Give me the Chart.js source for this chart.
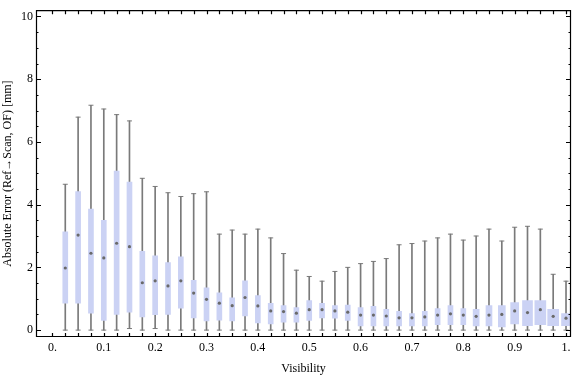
<!DOCTYPE html>
<html>
<head>
<meta charset="utf-8">
<script src="https://cdn.jsdelivr.net/npm/chart.js@4.4.1/dist/chart.umd.min.js"></script>
<style>
  html, body { margin: 0; padding: 0; background: #fff; }
</style>
</head>
<body>
<canvas id="box-chart" width="576" height="377"></canvas>
<script>
// one box per visibility bin
var visibility = [0.025, 0.05, 0.075, 0.1, 0.125, 0.15, 0.175, 0.2, 0.225, 0.25,
                  0.275, 0.3, 0.325, 0.35, 0.375, 0.4, 0.425, 0.45, 0.475, 0.5,
                  0.525, 0.55, 0.575, 0.6, 0.625, 0.65, 0.675, 0.7, 0.725, 0.75,
                  0.775, 0.8, 0.825, 0.85, 0.875, 0.9, 0.925, 0.95, 0.975, 1.0];
var whiskerLow = [0, 0, 0, 0, 0, 0.05, 0, 0.05, 0, 0,
                  0, 0, 0, 0, 0, 0, 0, 0, 0, 0,
                  0, 0, 0, 0, 0, 0, 0, 0, 0, 0,
                  0, 0, 0, 0, 0, 0, 0, 0, 0, 0];
var lowerQuartile = [0.86, 0.86, 0.54, 0.31, 0.50, 0.57, 0.42, 0.49, 0.50, 0.70,
                     0.39, 0.29, 0.32, 0.29, 0.45, 0.23, 0.20, 0.25, 0.25, 0.31,
                     0.39, 0.38, 0.31, 0.13, 0.13, 0.13, 0.13, 0.13, 0.13, 0.17,
                     0.17, 0.17, 0.13, 0.13, 0.10, 0.20, 0.14, 0.17, 0.14, 0.14];
var median = [1.98, 3.03, 2.45, 2.30, 2.77, 2.66, 1.51, 1.57, 1.41, 1.57,
              1.18, 0.98, 0.86, 0.78, 1.04, 0.77, 0.61, 0.59, 0.54, 0.65,
              0.65, 0.61, 0.57, 0.48, 0.48, 0.45, 0.39, 0.39, 0.42, 0.48,
              0.52, 0.48, 0.44, 0.48, 0.50, 0.61, 0.56, 0.65, 0.44, 0.38];
var upperQuartile = [3.13, 4.42, 3.86, 3.50, 5.07, 4.72, 2.51, 2.37, 2.15, 2.34,
                     1.59, 1.35, 1.19, 1.03, 1.57, 1.10, 0.85, 0.78, 0.72, 0.94,
                     0.85, 0.78, 0.80, 0.72, 0.76, 0.66, 0.60, 0.53, 0.60, 0.69,
                     0.78, 0.69, 0.66, 0.78, 0.78, 0.88, 0.94, 0.94, 0.66, 0.53];
var whiskerHigh = [4.65, 6.79, 7.17, 7.05, 6.87, 6.67, 4.84, 4.58, 4.38, 4.26,
                   4.35, 4.41, 3.06, 3.19, 3.06, 3.22, 2.94, 2.44, 1.91, 1.71,
                   1.56, 1.87, 2.00, 2.12, 2.19, 2.28, 2.72, 2.76, 2.84, 2.94,
                   3.06, 2.87, 3.00, 3.22, 2.84, 3.28, 3.31, 3.22, 1.78, 1.56];

var xTickValues = [0, 0.1, 0.2, 0.3, 0.4, 0.5, 0.6, 0.7, 0.8, 0.9, 1.0];
var xTickLabels = ["0.", "0.1", "0.2", "0.3", "0.4", "0.5", "0.6", "0.7", "0.8", "0.9", "1."];
var yTickValues = [0, 2, 4, 6, 8, 10];
var yTickLabels = ["0", "2", "4", "6", "8", "10"];

// box widths in px (style only), the last bins are drawn wider
var boxPx = [5, 5, 5, 5, 5, 5, 5, 5, 5, 5, 5, 5, 5, 5, 5, 5, 5, 5, 5, 5,
             5, 5, 5, 5, 5, 5, 5, 5, 5, 5, 5, 5, 6, 6, 7, 8, 10, 11, 11, 9];

var FONT = { family: "'Liberation Serif', 'DejaVu Serif', serif", size: 12 };
var GREY = '#7a7a7a';
var BOXCOL = '#cbd2f4';

var whiskers = [], caps = [], medians = [];
var widthGroups = {};
for (var i = 0; i < visibility.length; i++) {
    whiskers.push({ x: visibility[i], y: [whiskerLow[i], whiskerHigh[i]] });
    caps.push({ x: visibility[i], y: whiskerLow[i] });
    caps.push({ x: visibility[i], y: whiskerHigh[i] });
    medians.push({ x: visibility[i], y: median[i] });
    var w = boxPx[i];
    if (!widthGroups[w]) widthGroups[w] = [];
    widthGroups[w].push({ x: visibility[i], y: [lowerQuartile[i], upperQuartile[i]] });
}

var datasets = [
    { type: 'scatter', data: medians, pointStyle: 'circle', pointRadius: 1.6,
      backgroundColor: '#6a6a6a', borderWidth: 0, order: 0 },
    { type: 'scatter', data: caps, pointStyle: 'line', pointRadius: 2.5,
      borderColor: GREY, borderWidth: 1, order: 1 },
    { type: 'bar', data: whiskers, backgroundColor: GREY, barThickness: 1,
      grouped: false, order: 3 }
];
Object.keys(widthGroups).forEach(function (w) {
    datasets.push({ type: 'bar', data: widthGroups[w], backgroundColor: BOXCOL,
                    barThickness: Number(w), grouped: false, order: 2 });
});

// Mathematica-like frame with inward ticks
var framePlugin = {
    id: 'frame',
    afterDraw: function (chart) {
        var ctx = chart.ctx, a = chart.chartArea;
        var xs = chart.scales.x, ys = chart.scales.y;
        ctx.save();
        ctx.strokeStyle = '#000';
        ctx.lineWidth = 1.2;
        ctx.beginPath();
        ctx.rect(a.left + 0.5, a.top + 0.5, a.right - a.left - 1, a.bottom - a.top - 1);
        for (var k = 0; k <= 40; k++) {
            var px = Math.round(xs.getPixelForValue(k * 0.025)) + 0.5;
            ctx.moveTo(px, a.bottom); ctx.lineTo(px, a.bottom - 4);
            ctx.moveTo(px, a.top); ctx.lineTo(px, a.top + 4);
        }
        for (var j = 0; j <= 20; j++) {
            var py = Math.round(ys.getPixelForValue(j * 0.5)) + 0.5;
            var len = (j % 4 === 0) ? 5 : 2.5;
            ctx.moveTo(a.left, py); ctx.lineTo(a.left + len, py);
            ctx.moveTo(a.right, py); ctx.lineTo(a.right - len, py);
        }
        ctx.stroke();
        ctx.restore();
    }
};

new Chart(document.getElementById('box-chart'), {
    type: 'bar',
    data: { datasets: datasets },
    options: {
        responsive: false,
        animation: false,
        layout: { padding: { top: 4, right: 2, left: 0, bottom: 0 } },
        plugins: { legend: { display: false }, tooltip: { enabled: false } },
        scales: {
            x: {
                type: 'linear',
                min: -0.032,
                max: 1.0097,
                offset: false,
                grid: { display: false, drawTicks: false },
                border: { display: false },
                afterBuildTicks: function (scale) {
                    scale.ticks = xTickValues.map(function (v) { return { value: v }; });
                },
                afterFit: function (scale) { scale.height = 40; },
                ticks: {
                    autoSkip: false, maxRotation: 0, padding: 4, color: '#000', font: FONT,
                    callback: function (v, idx) { return xTickLabels[idx]; }
                },
                title: { display: true, text: 'Visibility', color: '#000', font: FONT,
                         padding: { top: 0, bottom: 1 } }
            },
            y: {
                min: -0.22,
                max: 10.2,
                grid: { display: false, drawTicks: false },
                border: { display: false },
                afterBuildTicks: function (scale) {
                    scale.ticks = yTickValues.map(function (v) { return { value: v }; });
                },
                afterFit: function (scale) { scale.width = 36; },
                ticks: {
                    padding: 3, color: '#000', font: FONT,
                    callback: function (v, idx) { return yTickLabels[idx]; }
                },
                title: { display: true, text: 'Absolute Error (Ref\u2192Scan, OF) [mm]',
                         color: '#000', font: FONT, padding: { top: 1, bottom: 0 } }
            }
        }
    },
    plugins: [framePlugin]
});
</script>
</body>
</html>
